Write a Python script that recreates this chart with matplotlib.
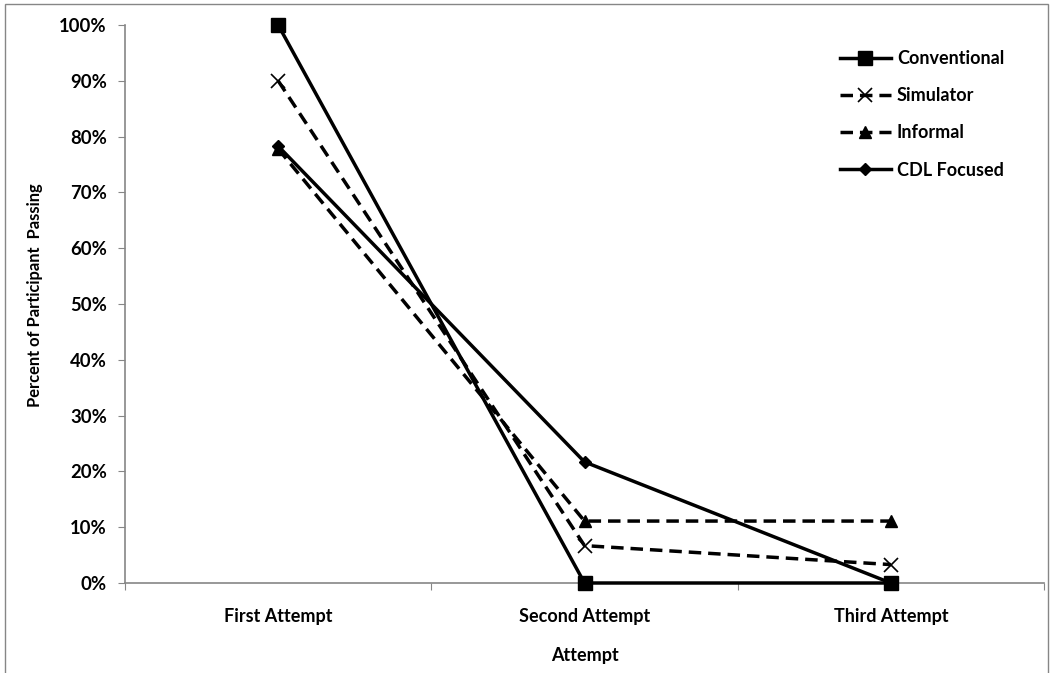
import matplotlib
matplotlib.use("Agg")
import matplotlib.pyplot as plt
from matplotlib.patches import Rectangle
from matplotlib.ticker import FuncFormatter, MultipleLocator

categories = ["First Attempt", "Second Attempt", "Third Attempt"]
conventional = [100, 0, 0]
simulator = [90, 6.7, 3.3]
informal = [77.8, 11.1, 11.1]
cdl_focused = [78.3, 21.7, 0]
series_names = ["Conventional", "Simulator", "Informal", "CDL Focused"]

plt.rcParams['font.family'] = ['Lato', 'DejaVu Sans']
plt.rcParams['font.weight'] = 'bold'

fig = plt.figure(figsize=(10.63, 6.73), dpi=100)
ax = fig.add_axes([125/1063, 1-583/673, (1044-125)/1063, (583-25)/673])

fig.patches.append(Rectangle((5/1063, -0.1), (1048-5)/1063, 1.1-4/673, transform=fig.transFigure,
                             fill=False, edgecolor='#868686', linewidth=1))

x = [0.5, 1.5, 2.5]
lw = 2.5
dash = (3.6, 2)
ax.plot(x, conventional, color='black', lw=lw, marker='s', ms=9.5, label=series_names[0], zorder=3, clip_on=False)
ax.plot(x, simulator, color='black', lw=lw, ls=(0, dash), marker='x', ms=10, mew=1.2, label=series_names[1], zorder=3, clip_on=False)
ax.plot(x, informal, color='black', lw=lw, ls=(0, dash), marker='^', ms=8.5, label=series_names[2], zorder=3, clip_on=False)
ax.plot(x, cdl_focused, color='black', lw=lw, marker='D', ms=6.5, label=series_names[3], zorder=3, clip_on=False)

ax.set_xlim(0, 3)
ax.set_ylim(0, 100)
ax.yaxis.set_major_locator(MultipleLocator(10))
ax.yaxis.set_major_formatter(FuncFormatter(lambda v, p: f"{int(round(v))}%"))
ax.set_xticks([0, 1, 2, 3])
ax.set_xticklabels([])
ax.set_xticks(x, minor=True)
ax.set_xticklabels(categories, minor=True)
ax.tick_params(axis='x', which='minor', length=0, pad=18, labelsize=13)
ax.tick_params(axis='x', which='major', length=5, color='#868686', direction='out')
ax.tick_params(axis='y', length=5, color='#868686', labelsize=13.3, pad=8)

for s in ['top', 'right']:
    ax.spines[s].set_visible(False)
for s in ['left', 'bottom']:
    ax.spines[s].set_color('#868686')
    ax.spines[s].set_linewidth(1.2)

ax.set_xlabel("Attempt", fontsize=13, fontweight='bold', labelpad=16)
ax.set_ylabel("Percent of Participant  Passing", fontsize=11.9, fontweight='bold')
ax.yaxis.set_label_coords(-0.0892, 0.516)

leg = ax.legend(loc='upper left', bbox_to_anchor=(840/1063, 1-50/673), bbox_transform=fig.transFigure,
                frameon=False, borderpad=0, borderaxespad=0,
                handlelength=2.8, handletextpad=0.35, labelspacing=1.12, prop={'weight': 'bold', 'size': 13})

fig.savefig("out.png", dpi=100)
